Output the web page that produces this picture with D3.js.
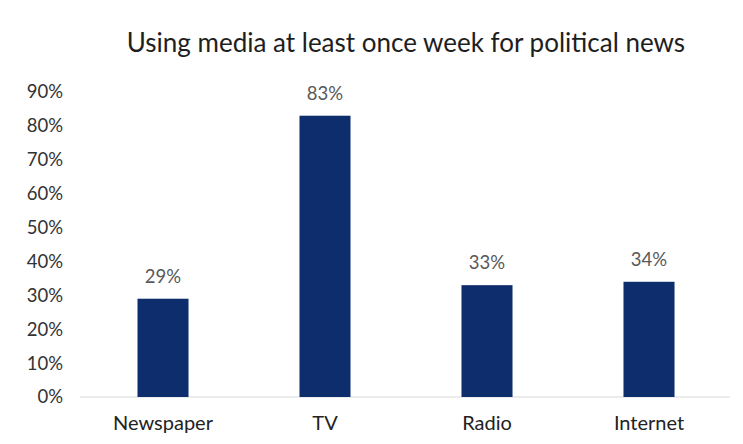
<!DOCTYPE html>
<html>
<head>
<meta charset="utf-8">
<script src="https://cdn.jsdelivr.net/npm/d3@7"></script>
<style>
  html, body { margin: 0; padding: 0; background: #fff; }
  svg { display: block; }
  text { font-family: Lato, "Open Sans", sans-serif; }
</style>
</head>
<body>
<svg id="chart" width="743" height="444"></svg>
<script>
const categories = ["Newspaper", "TV", "Radio", "Internet"];
const values = [29, 83, 33, 34];
const yTicks = [0, 10, 20, 30, 40, 50, 60, 70, 80, 90];
const title = "Using media at least once week for political news";

const svg = d3.select("#chart");
const W = 743, H = 444;
const margin = { left: 82, right: 13, top: 92, bottom: 47 };
const plotW = W - margin.left - margin.right;
const plotH = H - margin.top - margin.bottom;

const x = d3.scaleBand().domain(categories).range([0, plotW]).paddingInner(0.685).paddingOuter(0.3425);
const y = d3.scaleLinear().domain([0, 90]).range([plotH, 0]);

svg.append("rect").attr("width", W).attr("height", H).attr("fill", "#fff");

svg.append("text")
  .attr("x", 406).attr("y", 52)
  .attr("text-anchor", "middle")
  .attr("font-size", 26)
  .attr("fill", "#1e1e1e")
  .text(title);

const g = svg.append("g").attr("transform", `translate(${margin.left},${margin.top})`);

// y axis: labels only
const yAxis = d3.axisLeft(y).tickValues(yTicks).tickSize(0).tickPadding(19).tickFormat(d => d + "%");
const ya = g.append("g").call(yAxis);
ya.select(".domain").remove();
ya.selectAll("text").attr("font-size", 18.5).attr("fill", "#333").attr("font-family", "Lato, sans-serif");

// baseline
g.append("line")
  .attr("x1", -2).attr("x2", plotW)
  .attr("y1", y(0)).attr("y2", y(0))
  .attr("stroke", "#d9d9d9").attr("stroke-width", 1);

// bars
g.selectAll("rect.bar").data(values).join("rect")
  .attr("class", "bar")
  .attr("x", (d, i) => x(categories[i]))
  .attr("y", d => y(d))
  .attr("width", x.bandwidth())
  .attr("height", d => y(0) - y(d))
  .attr("fill", "#0e2d6c");

// value labels
g.selectAll("text.val").data(values).join("text")
  .attr("class", "val")
  .attr("x", (d, i) => x(categories[i]) + x.bandwidth() / 2)
  .attr("y", d => y(d) - 16)
  .attr("text-anchor", "middle")
  .attr("font-size", 18.5)
  .attr("fill", "#595959")
  .text(d => d + "%");

// x axis: category labels
const xAxis = d3.axisBottom(x).tickSize(0).tickPadding(19);
const xa = g.append("g").attr("transform", `translate(0,${plotH})`).call(xAxis);
xa.select(".domain").remove();
xa.selectAll("text").attr("font-size", 20).attr("fill", "#222").attr("font-family", "Lato, sans-serif");
</script>
</body>
</html>
